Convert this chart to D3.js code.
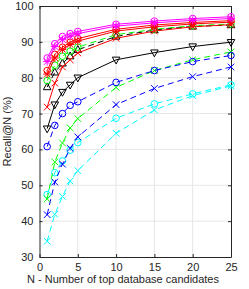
<!DOCTYPE html>
<html>
  <head>
    <meta charset="UTF-8">
    <title>Recall@N</title>
    <style>
      body { margin: 0; background: #fff; }
      svg { display: block; font-family: "Liberation Sans", Arial, sans-serif; }
    </style>
  </head>
  <body>
    <svg></svg>
    <script src="https://d3js.org/d3.v7.min.js"></script>
    <script>

// x values: number of top database candidates
var topN = [1, 2, 3, 4, 5, 10, 15, 20, 25];

// recall values per method
var magentaCircle = [85.5, 89.5, 91.5, 92.3, 92.9, 94.9, 95.8, 96.5, 97.0];
var magentaStar   = [84.5, 88.7, 90.6, 91.6, 92.3, 94.4, 95.3, 96.0, 96.5];
var redCircle     = [82.0, 86.5, 88.5, 89.9, 90.9, 93.5, 94.7, 95.4, 95.9];
var redStar       = [81.0, 85.5, 87.9, 89.3, 90.2, 93.0, 94.2, 95.0, 95.5];
var redCross      = [71.8, 78.5, 83.0, 85.0, 86.9, 91.0, 93.0, 94.2, 94.8];
var greenCircle   = [79.2, 83.5, 86.0, 87.4, 88.5, 92.0, 93.5, 94.5, 95.0];
var blackTriUp    = [77.4, 81.5, 84.0, 86.0, 87.8, 91.5, 93.3, 94.3, 94.7];
var blackTriDown  = [65.8, 72.5, 76.0, 78.0, 80.0, 85.0, 87.0, 88.7, 89.9];
var blueCircle    = [60.8, 66.7, 70.0, 72.3, 73.3, 78.7, 82.0, 84.5, 86.2];
var greenCross    = [46.2, 56.5, 61.8, 66.0, 68.6, 77.3, 82.0, 85.0, 87.2];
var blueCross     = [41.8, 50.9, 55.9, 60.3, 63.5, 72.5, 77.0, 80.3, 83.0];
var cyanCircle    = [47.4, 53.5, 56.8, 59.8, 61.9, 68.7, 72.7, 75.5, 78.0];
var cyanCross     = [34.4, 41.9, 46.9, 51.2, 54.1, 64.5, 71.0, 75.0, 77.7];

var xTicks = [0, 5, 10, 15, 20, 25];
var yTicks = [30, 40, 50, 60, 70, 80, 90, 100];

// draw order: bottom lines first so the top cluster sits above
var series = [
  {values: cyanCross,    color: "#00ffff", dash: true,  marker: "x"},
  {values: cyanCircle,   color: "#00ffff", dash: true,  marker: "o"},
  {values: blueCross,    color: "#0000ff", dash: true,  marker: "x"},
  {values: greenCross,   color: "#00ff00", dash: true,  marker: "x"},
  {values: blueCircle,   color: "#0000ff", dash: true,  marker: "o"},
  {values: blackTriDown, color: "#000000", dash: false, marker: "v"},
  {values: blackTriUp,   color: "#000000", dash: true,  marker: "^"},
  {values: greenCircle,  color: "#00ff00", dash: true,  marker: "o"},
  {values: redCross,     color: "#ff0000", dash: false, marker: "x"},
  {values: redStar,      color: "#ff0000", dash: false, marker: "*"},
  {values: redCircle,    color: "#ff0000", dash: false, marker: "o"},
  {values: magentaStar,  color: "#ff00ff", dash: false, marker: "*"},
  {values: magentaCircle,color: "#ff00ff", dash: false, marker: "o"}
];

var W = 249, H = 289;
var margin = {top: 6, right: 18, bottom: 32, left: 39.5};

var svg = d3.select("svg").attr("width", W).attr("height", H);

var x = d3.scaleLinear().domain([0, 25]).range([margin.left, W - margin.right]);
var y = d3.scaleLinear().domain([30, 100]).range([H - margin.bottom, margin.top]);

var axisColor = "#262626";

// grid
svg.append("g").selectAll("line").data(xTicks.slice(1, -1)).enter().append("line")
  .attr("x1", function(d){ return x(d); }).attr("x2", function(d){ return x(d); })
  .attr("y1", y(30)).attr("y2", y(100))
  .attr("stroke", "#e6e6e6").attr("stroke-width", 1);
svg.append("g").selectAll("line").data(yTicks.slice(1, -1)).enter().append("line")
  .attr("y1", function(d){ return y(d); }).attr("y2", function(d){ return y(d); })
  .attr("x1", x(0)).attr("x2", x(25))
  .attr("stroke", "#e6e6e6").attr("stroke-width", 1);

// axes with inward ticks
var xAxis = svg.append("g").attr("transform", "translate(0," + y(30) + ")")
  .call(d3.axisBottom(x).tickValues(xTicks).tickSizeInner(-3).tickSizeOuter(0).tickPadding(6));
var xAxisTop = svg.append("g").attr("transform", "translate(0," + y(100) + ")")
  .call(d3.axisTop(x).tickValues(xTicks).tickSizeInner(-3).tickSizeOuter(0).tickFormat(""));
var yAxis = svg.append("g").attr("transform", "translate(" + x(0) + ",0)")
  .call(d3.axisLeft(y).tickValues(yTicks).tickSizeInner(-3).tickSizeOuter(0).tickPadding(6));
var yAxisRight = svg.append("g").attr("transform", "translate(" + x(25) + ",0)")
  .call(d3.axisRight(y).tickValues(yTicks).tickSizeInner(-3).tickSizeOuter(0).tickFormat(""));

[xAxis, xAxisTop, yAxis, yAxisRight].forEach(function(a){
  a.selectAll("path, line").attr("stroke", axisColor);
  a.selectAll("text").attr("fill", axisColor).style("font-size", "11px")
    .style("font-family", "'Liberation Sans', Arial, sans-serif");
});

// lines and markers
var line = d3.line()
  .x(function(d, i){ return x(topN[i]); })
  .y(function(d){ return y(d); });

var r = 3.3;
function drawMarker(g, type, px, py, color) {
  if (type == "o") {
    g.append("circle").attr("cx", px).attr("cy", py).attr("r", r)
      .attr("fill", "none").attr("stroke", color);
  } else if (type == "x" || type == "*") {
    var p = "M" + (px - r) + "," + (py - r) + "L" + (px + r) + "," + (py + r) +
            "M" + (px - r) + "," + (py + r) + "L" + (px + r) + "," + (py - r);
    if (type == "*") p += "M" + (px - r * 1.2) + "," + py + "L" + (px + r * 1.2) + "," + py +
                          "M" + px + "," + (py - r * 1.2) + "L" + px + "," + (py + r * 1.2);
    g.append("path").attr("d", p).attr("stroke", color).attr("fill", "none");
  } else {
    var s = r * 1.15, dir = (type == "v") ? 1 : -1;
    var p = "M" + (px - s) + "," + (py - dir * s * 0.7) + "L" + (px + s) + "," + (py - dir * s * 0.7) +
            "L" + px + "," + (py + dir * s * 1.1) + "Z";
    g.append("path").attr("d", p).attr("stroke", color).attr("fill", "none");
  }
}

series.forEach(function(s){
  var g = svg.append("g");
  g.append("path").datum(s.values)
    .attr("d", line)
    .attr("fill", "none")
    .attr("stroke", s.color)
    .attr("stroke-width", 1)
    .attr("stroke-dasharray", s.dash ? "6,4" : null);
  s.values.forEach(function(v, i){
    drawMarker(g, s.marker, x(topN[i]), y(v), s.color);
  });
});

// labels
svg.append("text")
  .attr("x", 123).attr("y", 283)
  .attr("text-anchor", "middle").attr("fill", axisColor)
  .style("font-size", "11px")
  .text("N - Number of top database candidates");

svg.append("text")
  .attr("transform", "translate(11," + (y(30) + y(100)) / 2 + ") rotate(-90)")
  .attr("text-anchor", "middle").attr("fill", axisColor)
  .style("font-size", "11px")
  .text("Recall@N (%)");

    </script>
  </body>
</html>
